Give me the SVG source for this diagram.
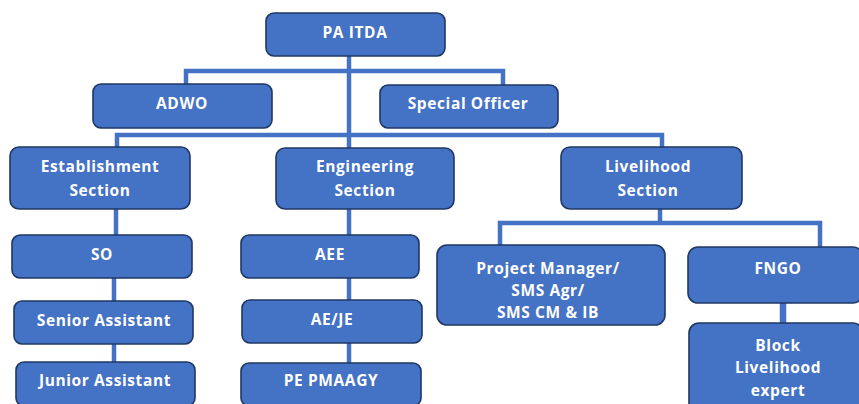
<svg xmlns="http://www.w3.org/2000/svg" width="859" height="404" viewBox="0 0 859 404">
<style>
.box{fill:#4472C4;stroke:#203864;stroke-width:1.6}
.t{fill:#fff;font-family:"Open Sans","Liberation Sans",sans-serif;font-weight:bold;font-size:15.5px;letter-spacing:0.6px;text-anchor:middle}
.c{fill:none;stroke:#4472C4;stroke-width:4.5}
</style>
<rect width="859" height="404" fill="#fff"/>
<g id="connectors">
<path class="c" d="M349 56 V137"/>
<path class="c" d="M186 84 V71 H503 V85"/>
<path class="c" d="M117 147 V135 H662 V148"/>
<path class="c" d="M349 135 V148"/>
<path class="c" d="M116 209 V235"/>
<path class="c" d="M349 209 V235"/>
<path class="c" d="M114 278 V301"/>
<path class="c" d="M114 344 V362"/>
<path class="c" d="M349 278 V300"/>
<path class="c" d="M349 343 V363"/>
<path class="c" d="M660 209 V223 M500 245 V223 H820 V247"/>
<path class="c" d="M783 303 V323" style="stroke-width:6.5"/>
</g>
<g id="pa-itda"><rect class="box" x="266" y="13" width="179" height="43" rx="8"/><text class="t" x="355" y="38">PA ITDA</text></g>
<g id="adwo"><rect class="box" x="93" y="84" width="179" height="44" rx="8"/><text class="t" x="182" y="109">ADWO</text></g>
<g id="special-officer"><rect class="box" x="380" y="85" width="178" height="43" rx="8"/><text class="t" x="468" y="109">Special Officer</text></g>
<g id="establishment"><rect class="box" x="10" y="147" width="180" height="62" rx="9"/><text class="t" x="100" y="172">Establishment</text><text class="t" x="100" y="196">Section</text></g>
<g id="engineering"><rect class="box" x="276" y="148" width="178" height="61" rx="9"/><text class="t" x="365" y="172">Engineering</text><text class="t" x="365" y="196">Section</text></g>
<g id="livelihood"><rect class="box" x="561" y="147" width="181" height="62" rx="9"/><text class="t" x="648" y="172">Livelihood</text><text class="t" x="648" y="196">Section</text></g>
<g id="so"><rect class="box" x="12" y="235" width="180" height="43" rx="8"/><text class="t" x="102" y="260">SO</text></g>
<g id="aee"><rect class="box" x="241" y="235" width="178" height="43" rx="8"/><text class="t" x="330" y="260">AEE</text></g>
<g id="senior-assistant"><rect class="box" x="14" y="301" width="179" height="43" rx="8"/><text class="t" x="104" y="326">Senior Assistant</text></g>
<g id="junior-assistant"><rect class="box" x="16" y="362" width="179" height="44" rx="8"/><text class="t" x="105" y="386">Junior Assistant</text></g>
<g id="ae-je"><rect class="box" x="242" y="300" width="180" height="43" rx="8"/><text class="t" x="332" y="325">AE/JE</text></g>
<g id="pe-pmaagy"><rect class="box" x="241" y="363" width="180" height="43" rx="8"/><text class="t" x="331" y="386">PE PMAAGY</text></g>
<g id="project-manager"><rect class="box" x="437" y="245" width="228" height="80" rx="10"/><text class="t" x="548" y="274">Project Manager/</text><text class="t" x="548" y="296">SMS Agr/</text><text class="t" x="548" y="318">SMS CM &amp; IB</text></g>
<g id="fngo"><rect class="box" x="688" y="247" width="175" height="56" rx="10"/><text class="t" x="778" y="274">FNGO</text></g>
<g id="block-livelihood"><rect class="box" x="689" y="323" width="174" height="90" rx="10"/><text class="t" x="778" y="351">Block</text><text class="t" x="778" y="373">Livelihood</text><text class="t" x="778" y="396">expert</text></g>
</svg>
